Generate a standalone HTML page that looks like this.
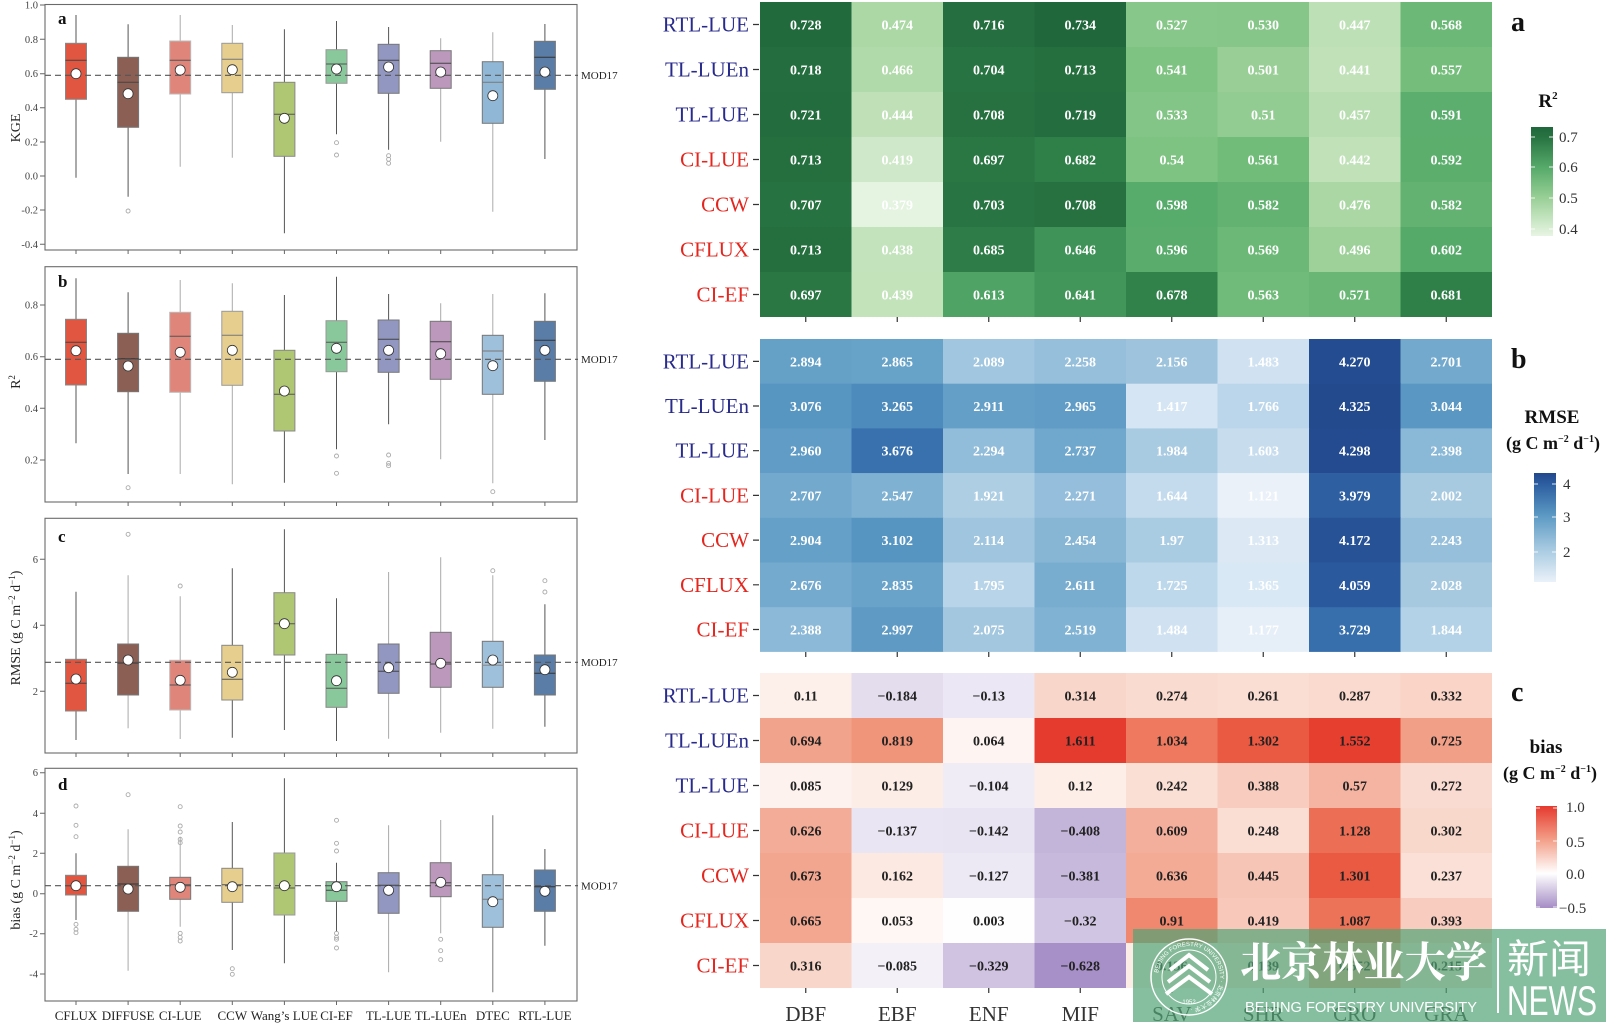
<!DOCTYPE html>
<html><head><meta charset="utf-8"><style>
html,body{margin:0;padding:0;background:#fff;}
svg{display:block;}
.t{font-family:"Liberation Serif",serif;}
.s{font-family:"Liberation Sans",sans-serif;}
</style></head><body>
<svg width="1606" height="1026" viewBox="0 0 1606 1026" xmlns="http://www.w3.org/2000/svg">
<defs>
<linearGradient id="gA" x1="0" y1="0" x2="0" y2="1">
<stop offset="0" stop-color="#1f673b"/><stop offset="0.093" stop-color="#287342"/><stop offset="0.374" stop-color="#56aa6a"/><stop offset="0.654" stop-color="#9ad097"/><stop offset="0.935" stop-color="#daeed5"/><stop offset="1" stop-color="#e8f4e4"/>
</linearGradient>
<linearGradient id="gB" x1="0" y1="0" x2="0" y2="1">
<stop offset="0" stop-color="#22488c"/><stop offset="0.1" stop-color="#2c5ea0"/><stop offset="0.396" stop-color="#5d9ac4"/><stop offset="0.7" stop-color="#a8cae1"/><stop offset="1" stop-color="#eaf1f9"/>
</linearGradient>
<linearGradient id="gC" x1="0" y1="0" x2="0" y2="1">
<stop offset="0" stop-color="#e53a2e"/><stop offset="0.34" stop-color="#f3a28b"/><stop offset="0.66" stop-color="#ffffff"/><stop offset="1" stop-color="#a58cc5"/>
</linearGradient>
<path id="logoArc" d="M1158 977 A31 31 0 1 1 1220 977 A31 31 0 1 1 1158 977"/>
</defs>
<rect width="1606" height="1026" fill="#fff"/>

<!-- ============ LEFT BOXPLOT PANELS ============ -->
<g class="t" font-size="10.5" fill="#444" text-anchor="end">
<text x="38" y="8.5">1.0</text><text x="38" y="43">0.8</text><text x="38" y="77">0.6</text><text x="38" y="111">0.4</text><text x="38" y="145.5">0.2</text><text x="38" y="179.5">0.0</text><text x="38" y="213.5">-0.2</text><text x="38" y="248">-0.4</text>
<text x="38" y="308.5">0.8</text><text x="38" y="360">0.6</text><text x="38" y="412">0.4</text><text x="38" y="463.5">0.2</text>
<text x="38" y="563">6</text><text x="38" y="629">4</text><text x="38" y="695">2</text>
<text x="38" y="776">6</text><text x="38" y="817">4</text><text x="38" y="857">2</text><text x="38" y="897">0</text><text x="38" y="937">-2</text><text x="38" y="977.5">-4</text>
</g>
<g stroke="#666" stroke-width="1">
<path d="M40 5H45M40 39.3H45M40 73.7H45M40 107.7H45M40 142H45M40 176H45M40 210H45M40 244.3H45"/>
<path d="M40 305H45M40 356.7H45M40 408.3H45M40 460H45"/>
<path d="M40 559.3H45M40 625.3H45M40 691.3H45"/>
<path d="M40 772.7H45M40 813.3H45M40 853.3H45M40 893.7H45M40 933.7H45M40 974H45"/>
<path d="M76 250v4M128.1 250v4M180.2 250v4M232.3 250v4M284.4 250v4M336.5 250v4M388.6 250v4M440.7 250v4M492.8 250v4M544.9 250v4"/>
<path d="M76 502v4M128.1 502v4M180.2 502v4M232.3 502v4M284.4 502v4M336.5 502v4M388.6 502v4M440.7 502v4M492.8 502v4M544.9 502v4"/>
<path d="M76 753v4M128.1 753v4M180.2 753v4M232.3 753v4M284.4 753v4M336.5 753v4M388.6 753v4M440.7 753v4M492.8 753v4M544.9 753v4"/>
<path d="M76 1001v4M128.1 1001v4M180.2 1001v4M232.3 1001v4M284.4 1001v4M336.5 1001v4M388.6 1001v4M440.7 1001v4M492.8 1001v4M544.9 1001v4"/>
</g>
<g fill="none" stroke="#6a6a6a" stroke-width="1.1">
<rect x="45" y="4.5" width="532" height="245.5"/>
<rect x="45" y="266.7" width="532" height="235.3"/>
<rect x="45" y="518.3" width="532" height="234.7"/>
<rect x="45" y="768.3" width="532" height="232.7"/>
</g>
<g class="t" font-size="14" fill="#222" text-anchor="middle">
<text transform="translate(20,128) rotate(-90)">KGE</text>
<text transform="translate(20,382) rotate(-90)">R<tspan font-size="9" dy="-5">2</tspan></text>
<text transform="translate(20,628) rotate(-90)">RMSE (g C m<tspan font-size="9" dy="-5">−2</tspan><tspan dy="5"> d</tspan><tspan font-size="9" dy="-5">−1</tspan><tspan dy="5">)</tspan></text>
<text transform="translate(20,880) rotate(-90)">bias (g C m<tspan font-size="9" dy="-5">−2</tspan><tspan dy="5"> d</tspan><tspan font-size="9" dy="-5">−1</tspan><tspan dy="5">)</tspan></text>
</g>
<g class="t" font-size="17" font-weight="bold" fill="#111">
<text x="58" y="24">a</text><text x="58" y="287">b</text><text x="58" y="542">c</text><text x="58" y="790">d</text>
</g>
<g class="t" font-size="13" fill="#222" text-anchor="middle">
<text x="76" y="1020">CFLUX</text><text x="128.1" y="1020">DIFFUSE</text><text x="180.2" y="1020">CI-LUE</text><text x="232.3" y="1020">CCW</text><text x="284.4" y="1020">Wang’s LUE</text><text x="336.5" y="1020">CI-EF</text><text x="388.6" y="1020">TL-LUE</text><text x="440.7" y="1020">TL-LUEn</text><text x="492.8" y="1020">DTEC</text><text x="544.9" y="1020">RTL-LUE</text>
</g>

<!-- Boxes: panel a -->
<g stroke-width="1">
<g transform="translate(76,0)"><path d="M0 15V43.3M0 99.3V177.7" stroke="#555"/><rect x="-10.5" y="43.3" width="21" height="56" fill="#e15641" stroke="#888"/><path d="M-10.5 60.3H10.5" stroke="#444"/></g>
<g transform="translate(128.1,0)"><path d="M0 24.3V57.3M0 127.3V196.7" stroke="#555"/><rect x="-10.5" y="57.3" width="21" height="70" fill="#8c5f55" stroke="#777"/><path d="M-10.5 82.3H10.5" stroke="#444"/></g>
<g transform="translate(180.2,0)"><path d="M0 15V41M0 94V166.7" stroke="#aaa"/><rect x="-10.5" y="41" width="21" height="53" fill="#df857a" stroke="#bbb"/><path d="M-10.5 60.3H10.5" stroke="#555"/></g>
<g transform="translate(232.3,0)"><path d="M0 25V43.3M0 92.7V157.7" stroke="#aaa"/><rect x="-10.5" y="43.3" width="21" height="49.4" fill="#e6cf8e" stroke="#999"/><path d="M-10.5 59.3H10.5" stroke="#777"/></g>
<g transform="translate(284.4,0)"><path d="M0 29.3V82.3M0 156.3V233.3" stroke="#555"/><rect x="-10.5" y="82.3" width="21" height="74" fill="#afc672" stroke="#888"/><path d="M-10.5 114.3H10.5" stroke="#555"/></g>
<g transform="translate(336.5,0)"><path d="M0 21V49.7M0 83.3V134.3" stroke="#555"/><rect x="-10.5" y="49.7" width="21" height="33.6" fill="#89c89a" stroke="#999"/><path d="M-10.5 64H10.5" stroke="#555"/></g>
<g transform="translate(388.6,0)"><path d="M0 27V44.3M0 93.3V149.7" stroke="#555"/><rect x="-10.5" y="44.3" width="21" height="49" fill="#9197c0" stroke="#777"/><path d="M-10.5 60.3H10.5" stroke="#444"/></g>
<g transform="translate(440.7,0)"><path d="M0 38.3V50.7M0 88.3V141.7" stroke="#aaa"/><rect x="-10.5" y="50.7" width="21" height="37.6" fill="#bc98bd" stroke="#777"/><path d="M-10.5 63.3H10.5" stroke="#444"/></g>
<g transform="translate(492.8,0)"><path d="M0 32.3V61.7M0 123.3V211.7" stroke="#aaa"/><rect x="-10.5" y="61.7" width="21" height="61.6" fill="#90b8d6" stroke="#777"/><path d="M-10.5 82.3H10.5" stroke="#777"/></g>
<g transform="translate(544.9,0)"><path d="M0 24V41.3M0 89.3V159" stroke="#555"/><rect x="-10.5" y="41.3" width="21" height="48" fill="#5a7da8" stroke="#777"/><path d="M-10.5 57.3H10.5" stroke="#333"/></g>
</g>
<!-- panel b -->
<g stroke-width="1">
<g transform="translate(76,0)"><path d="M0 278.3V319.3M0 385V443.3" stroke="#555"/><rect x="-10.5" y="319.3" width="21" height="65.7" fill="#e15641" stroke="#888"/><path d="M-10.5 342.3H10.5" stroke="#444"/></g>
<g transform="translate(128.1,0)"><path d="M0 292.3V333.3M0 391.7V474" stroke="#555"/><rect x="-10.5" y="333.3" width="21" height="58.4" fill="#8c5f55" stroke="#777"/><path d="M-10.5 358.7H10.5" stroke="#333"/></g>
<g transform="translate(180.2,0)"><path d="M0 280V312.3M0 392.3V474" stroke="#aaa"/><rect x="-10.5" y="312.3" width="21" height="80" fill="#df857a" stroke="#bbb"/><path d="M-10.5 336.3H10.5" stroke="#555"/></g>
<g transform="translate(232.3,0)"><path d="M0 283.3V311.3M0 385.3V484.3" stroke="#aaa"/><rect x="-10.5" y="311.3" width="21" height="74" fill="#e6cf8e" stroke="#999"/><path d="M-10.5 335.3H10.5" stroke="#777"/></g>
<g transform="translate(284.4,0)"><path d="M0 295V350.3M0 431V482.7" stroke="#555"/><rect x="-10.5" y="350.3" width="21" height="80.7" fill="#afc672" stroke="#888"/><path d="M-10.5 394.3H10.5" stroke="#555"/></g>
<g transform="translate(336.5,0)"><path d="M0 276.7V320.7M0 371.7V449.3" stroke="#555"/><rect x="-10.5" y="320.7" width="21" height="51" fill="#89c89a" stroke="#999"/><path d="M-10.5 342.3H10.5" stroke="#555"/></g>
<g transform="translate(388.6,0)"><path d="M0 294V320M0 372.3V424.3" stroke="#555"/><rect x="-10.5" y="320" width="21" height="52.3" fill="#9197c0" stroke="#777"/><path d="M-10.5 339.3H10.5" stroke="#444"/></g>
<g transform="translate(440.7,0)"><path d="M0 303.3V321.3M0 379.3V459.3" stroke="#aaa"/><rect x="-10.5" y="321.3" width="21" height="58" fill="#bc98bd" stroke="#777"/><path d="M-10.5 341.7H10.5" stroke="#444"/></g>
<g transform="translate(492.8,0)"><path d="M0 294V335.3M0 394.3V483.3" stroke="#aaa"/><rect x="-10.5" y="335.3" width="21" height="59" fill="#9fc0da" stroke="#777"/><path d="M-10.5 351H10.5" stroke="#777"/></g>
<g transform="translate(544.9,0)"><path d="M0 293.3V321.3M0 381.3V440" stroke="#555"/><rect x="-10.5" y="321.3" width="21" height="60" fill="#5a7da8" stroke="#777"/><path d="M-10.5 340.3H10.5" stroke="#333"/></g>
</g>
<!-- panel c -->
<g stroke-width="1">
<g transform="translate(76,0)"><path d="M0 591.7V659.3M0 711V740" stroke="#555"/><rect x="-10.5" y="659.3" width="21" height="51.7" fill="#e15641" stroke="#888"/><path d="M-10.5 683.3H10.5" stroke="#444"/></g>
<g transform="translate(128.1,0)"><path d="M0 575.3V644M0 695V728.3" stroke="#aaa"/><rect x="-10.5" y="644" width="21" height="51" fill="#8c5f55" stroke="#777"/><path d="M-10.5 663H10.5" stroke="#333"/></g>
<g transform="translate(180.2,0)"><path d="M0 596.3V660.3M0 710V739" stroke="#aaa"/><rect x="-10.5" y="660.3" width="21" height="49.7" fill="#df857a" stroke="#bbb"/><path d="M-10.5 685H10.5" stroke="#555"/></g>
<g transform="translate(232.3,0)"><path d="M0 568.3V645.3M0 700V737.7" stroke="#555"/><rect x="-10.5" y="645.3" width="21" height="54.7" fill="#e6cf8e" stroke="#888"/><path d="M-10.5 679.3H10.5" stroke="#555"/></g>
<g transform="translate(284.4,0)"><path d="M0 529.3V592.7M0 655V730" stroke="#555"/><rect x="-10.5" y="592.7" width="21" height="62.3" fill="#afc672" stroke="#888"/><path d="M-10.5 623.7H10.5" stroke="#555"/></g>
<g transform="translate(336.5,0)"><path d="M0 598.3V654.3M0 707.3V741" stroke="#555"/><rect x="-10.5" y="654.3" width="21" height="53" fill="#89c89a" stroke="#888"/><path d="M-10.5 688.3H10.5" stroke="#555"/></g>
<g transform="translate(388.6,0)"><path d="M0 572V644M0 693.3V738.7" stroke="#aaa"/><rect x="-10.5" y="644" width="21" height="49.3" fill="#9197c0" stroke="#777"/><path d="M-10.5 671.3H10.5" stroke="#444"/></g>
<g transform="translate(440.7,0)"><path d="M0 557.3V632.3M0 687.3V732.7" stroke="#aaa"/><rect x="-10.5" y="632.3" width="21" height="55" fill="#bc98bd" stroke="#777"/><path d="M-10.5 664H10.5" stroke="#444"/></g>
<g transform="translate(492.8,0)"><path d="M0 575.3V641.3M0 687.3V728.7" stroke="#aaa"/><rect x="-10.5" y="641.3" width="21" height="46" fill="#9fc0da" stroke="#777"/><path d="M-10.5 665.3H10.5" stroke="#888"/></g>
<g transform="translate(544.9,0)"><path d="M0 604.3V655M0 695V726.7" stroke="#555"/><rect x="-10.5" y="655" width="21" height="40" fill="#5a7da8" stroke="#777"/><path d="M-10.5 673.3H10.5" stroke="#333"/></g>
</g>
<!-- panel d -->
<g stroke-width="1">
<g transform="translate(76,0)"><path d="M0 853.3V875.3M0 895V920" stroke="#555"/><rect x="-10.5" y="875.3" width="21" height="19.7" fill="#e15641" stroke="#888"/><path d="M-10.5 885.7H10.5" stroke="#444"/></g>
<g transform="translate(128.1,0)"><path d="M0 829.3V866.3M0 911.3V970.7" stroke="#aaa"/><rect x="-10.5" y="866.3" width="21" height="45" fill="#8c5f55" stroke="#777"/><path d="M-10.5 884H10.5" stroke="#333"/></g>
<g transform="translate(180.2,0)"><path d="M0 836.7V877.3M0 899.3V926.7" stroke="#aaa"/><rect x="-10.5" y="877.3" width="21" height="22" fill="#df857a" stroke="#777"/><path d="M-10.5 884.7H10.5" stroke="#555"/></g>
<g transform="translate(232.3,0)"><path d="M0 822V868.3M0 902.3V950" stroke="#555"/><rect x="-10.5" y="868.3" width="21" height="34" fill="#e6cf8e" stroke="#888"/><path d="M-10.5 884.7H10.5" stroke="#555"/></g>
<g transform="translate(284.4,0)"><path d="M0 778.3V853M0 915V963.3" stroke="#555"/><rect x="-10.5" y="853" width="21" height="62" fill="#afc672" stroke="#999"/><path d="M-10.5 888H10.5" stroke="#555"/></g>
<g transform="translate(336.5,0)"><path d="M0 862.7V881.7M0 901.3V931.7" stroke="#555"/><rect x="-10.5" y="881.7" width="21" height="19.6" fill="#89c89a" stroke="#777"/><path d="M-10.5 890.3H10.5" stroke="#444"/></g>
<g transform="translate(388.6,0)"><path d="M0 825.3V872.7M0 913.3V972.3" stroke="#aaa"/><rect x="-10.5" y="872.7" width="21" height="40.6" fill="#9197c0" stroke="#777"/><path d="M-10.5 885.3H10.5" stroke="#444"/></g>
<g transform="translate(440.7,0)"><path d="M0 820V862.7M0 896.7V933.3" stroke="#aaa"/><rect x="-10.5" y="862.7" width="21" height="34" fill="#bc98bd" stroke="#777"/><path d="M-10.5 882.7H10.5" stroke="#444"/></g>
<g transform="translate(492.8,0)"><path d="M0 815.3V874.7M0 927.3V992.3" stroke="#777"/><rect x="-10.5" y="874.7" width="21" height="52.6" fill="#9fc0da" stroke="#777"/><path d="M-10.5 899.3H10.5" stroke="#777"/></g>
<g transform="translate(544.9,0)"><path d="M0 849V870M0 911.3V945.7" stroke="#555"/><rect x="-10.5" y="870" width="21" height="41.3" fill="#5a7da8" stroke="#777"/><path d="M-10.5 886.7H10.5" stroke="#333"/></g>
</g>
<!-- outliers -->
<g fill="none" stroke="#aaa" stroke-width="0.9">
<circle cx="128.1" cy="211" r="2"/><circle cx="336.5" cy="142.7" r="2"/><circle cx="336.5" cy="155" r="2"/><circle cx="388.6" cy="155.7" r="2"/><circle cx="388.6" cy="159.3" r="2"/><circle cx="388.6" cy="163.3" r="2"/>
<circle cx="128.1" cy="487.7" r="2"/><circle cx="336.5" cy="456" r="2"/><circle cx="336.5" cy="473.3" r="2"/><circle cx="388.6" cy="455" r="2"/><circle cx="388.6" cy="463.3" r="2"/><circle cx="388.6" cy="465.7" r="2"/><circle cx="492.8" cy="491.7" r="2"/>
<circle cx="128.1" cy="534.3" r="2"/><circle cx="180.2" cy="586" r="2"/><circle cx="492.8" cy="570.7" r="2"/><circle cx="544.9" cy="580.7" r="2"/><circle cx="544.9" cy="592" r="2"/>
<circle cx="76" cy="806" r="2"/><circle cx="76" cy="825.3" r="2"/><circle cx="76" cy="836.7" r="2"/><circle cx="76" cy="924.3" r="2"/><circle cx="76" cy="929.3" r="2"/><circle cx="76" cy="932.7" r="2"/>
<circle cx="128.1" cy="794.7" r="2"/>
<circle cx="180.2" cy="806.7" r="2"/><circle cx="180.2" cy="826" r="2"/><circle cx="180.2" cy="832" r="2"/><circle cx="180.2" cy="839.3" r="2"/><circle cx="180.2" cy="842.7" r="2"/><circle cx="180.2" cy="933.3" r="2"/><circle cx="180.2" cy="937.3" r="2"/><circle cx="180.2" cy="941" r="2"/>
<circle cx="232.3" cy="968.7" r="2"/><circle cx="232.3" cy="974.3" r="2"/>
<circle cx="336.5" cy="820.3" r="2"/><circle cx="336.5" cy="843.3" r="2"/><circle cx="336.5" cy="851" r="2"/><circle cx="336.5" cy="933.3" r="2"/><circle cx="336.5" cy="937.3" r="2"/><circle cx="336.5" cy="939.3" r="2"/><circle cx="336.5" cy="948" r="2"/>
<circle cx="440.7" cy="939.3" r="2"/><circle cx="440.7" cy="950.7" r="2"/><circle cx="440.7" cy="959.7" r="2"/>
</g>
<!-- MOD17 dashed lines -->
<g stroke="#555" stroke-width="1.1" stroke-dasharray="6,4">
<path d="M45 75.3H578"/><path d="M45 359.3H578"/><path d="M45 662.3H578"/><path d="M45 885.7H578"/>
</g>
<g class="t" font-size="11" fill="#222">
<text x="581" y="79">MOD17</text><text x="581" y="363">MOD17</text><text x="581" y="666">MOD17</text><text x="581" y="889.7">MOD17</text>
</g>
<!-- means -->
<g fill="#fff" stroke="#333" stroke-width="0.8">
<circle cx="76" cy="73.7" r="5"/><circle cx="128.1" cy="93.7" r="5"/><circle cx="180.2" cy="70" r="5"/><circle cx="232.3" cy="69.7" r="5"/><circle cx="284.4" cy="118.3" r="5"/><circle cx="336.5" cy="69" r="5"/><circle cx="388.6" cy="67" r="5"/><circle cx="440.7" cy="72" r="5"/><circle cx="492.8" cy="95.7" r="5"/><circle cx="544.9" cy="72" r="5"/>
<circle cx="76" cy="350.7" r="5"/><circle cx="128.1" cy="366" r="5"/><circle cx="180.2" cy="352.3" r="5"/><circle cx="232.3" cy="350.3" r="5"/><circle cx="284.4" cy="391" r="5"/><circle cx="336.5" cy="348.3" r="5"/><circle cx="388.6" cy="350.3" r="5"/><circle cx="440.7" cy="353.7" r="5"/><circle cx="492.8" cy="365.7" r="5"/><circle cx="544.9" cy="350.3" r="5"/>
<circle cx="76" cy="679" r="5"/><circle cx="128.1" cy="660" r="5"/><circle cx="180.2" cy="680.3" r="5"/><circle cx="232.3" cy="672.3" r="5"/><circle cx="284.4" cy="623.7" r="5"/><circle cx="336.5" cy="680.7" r="5"/><circle cx="388.6" cy="667.7" r="5"/><circle cx="440.7" cy="663.3" r="5"/><circle cx="492.8" cy="660" r="5"/><circle cx="544.9" cy="669.7" r="5"/>
<circle cx="76" cy="885.7" r="5"/><circle cx="128.1" cy="889" r="5"/><circle cx="180.2" cy="887.3" r="5"/><circle cx="232.3" cy="886.7" r="5"/><circle cx="284.4" cy="885.7" r="5"/><circle cx="336.5" cy="886.7" r="5"/><circle cx="388.6" cy="890.3" r="5"/><circle cx="440.7" cy="882.3" r="5"/><circle cx="492.8" cy="901.7" r="5"/><circle cx="544.9" cy="891.3" r="5"/>
</g>

<!-- ============ HEATMAP A (R2) ============ -->
<g>
<rect x="760" y="2" width="92" height="45" fill="#216a3c"/><rect x="851.5" y="2" width="92" height="45" fill="#acd8a6"/><rect x="943" y="2" width="92" height="45" fill="#246e3f"/><rect x="1034.5" y="2" width="92" height="45" fill="#20683b"/><rect x="1126" y="2" width="92" height="45" fill="#87c789"/><rect x="1217.5" y="2" width="92" height="45" fill="#86c688"/><rect x="1309" y="2" width="92" height="45" fill="#bee0b6"/><rect x="1400.5" y="2" width="91.5" height="45" fill="#6cb877"/>
<rect x="760" y="47" width="92" height="45" fill="#246d3f"/><rect x="851.5" y="47" width="92" height="45" fill="#b1daaa"/><rect x="943" y="47" width="92" height="45" fill="#287342"/><rect x="1034.5" y="47" width="92" height="45" fill="#256f3f"/><rect x="1126" y="47" width="92" height="45" fill="#7fc383"/><rect x="1217.5" y="47" width="92" height="45" fill="#99cf96"/><rect x="1309" y="47" width="92" height="45" fill="#c1e2b9"/><rect x="1400.5" y="47" width="91.5" height="45" fill="#74bd7b"/>
<rect x="760" y="92" width="92" height="45" fill="#236c3e"/><rect x="851.5" y="92" width="92" height="45" fill="#c0e1b8"/><rect x="943" y="92" width="92" height="45" fill="#277141"/><rect x="1034.5" y="92" width="92" height="45" fill="#246d3e"/><rect x="1126" y="92" width="92" height="45" fill="#83c586"/><rect x="1217.5" y="92" width="92" height="45" fill="#93cc92"/><rect x="1309" y="92" width="92" height="45" fill="#b7ddb0"/><rect x="1400.5" y="92" width="91.5" height="45" fill="#5cae6e"/>
<rect x="760" y="137" width="92" height="45" fill="#256f3f"/><rect x="851.5" y="137" width="92" height="45" fill="#cfe8c9"/><rect x="943" y="137" width="92" height="45" fill="#2a7744"/><rect x="1034.5" y="137" width="92" height="45" fill="#2f7f49"/><rect x="1126" y="137" width="92" height="45" fill="#7fc383"/><rect x="1217.5" y="137" width="92" height="45" fill="#71bc79"/><rect x="1309" y="137" width="92" height="45" fill="#c1e2b9"/><rect x="1400.5" y="137" width="91.5" height="45" fill="#5cae6d"/>
<rect x="760" y="182" width="92" height="45" fill="#277241"/><rect x="851.5" y="182" width="92" height="45" fill="#e5f3e1"/><rect x="943" y="182" width="92" height="45" fill="#287442"/><rect x="1034.5" y="182" width="92" height="45" fill="#277141"/><rect x="1126" y="182" width="92" height="45" fill="#57ab6b"/><rect x="1217.5" y="182" width="92" height="45" fill="#63b271"/><rect x="1309" y="182" width="92" height="45" fill="#abd7a5"/><rect x="1400.5" y="182" width="91.5" height="45" fill="#63b271"/>
<rect x="760" y="227" width="92" height="45" fill="#256f3f"/><rect x="851.5" y="227" width="92" height="45" fill="#c3e3bc"/><rect x="943" y="227" width="92" height="45" fill="#2e7d48"/><rect x="1034.5" y="227" width="92" height="45" fill="#3f9358"/><rect x="1126" y="227" width="92" height="45" fill="#59ac6c"/><rect x="1217.5" y="227" width="92" height="45" fill="#6cb876"/><rect x="1309" y="227" width="92" height="45" fill="#9dd199"/><rect x="1400.5" y="227" width="91.5" height="45" fill="#55a969"/>
<rect x="760" y="272" width="92" height="45" fill="#2a7744"/><rect x="851.5" y="272" width="92" height="45" fill="#c3e3bb"/><rect x="943" y="272" width="92" height="45" fill="#4fa364"/><rect x="1034.5" y="272" width="92" height="45" fill="#42965a"/><rect x="1126" y="272" width="92" height="45" fill="#31814b"/><rect x="1217.5" y="272" width="92" height="45" fill="#70bb79"/><rect x="1309" y="272" width="92" height="45" fill="#6ab775"/><rect x="1400.5" y="272" width="91.5" height="45" fill="#2f7f49"/>
</g>
<g class="t" font-size="14" font-weight="bold" fill="#fff" text-anchor="middle">
<text x="805.75" y="29.5">0.728</text><text x="897.25" y="29.5">0.474</text><text x="988.75" y="29.5">0.716</text><text x="1080.25" y="29.5">0.734</text><text x="1171.75" y="29.5">0.527</text><text x="1263.25" y="29.5">0.530</text><text x="1354.75" y="29.5">0.447</text><text x="1446.25" y="29.5">0.568</text>
<text x="805.75" y="74.5">0.718</text><text x="897.25" y="74.5">0.466</text><text x="988.75" y="74.5">0.704</text><text x="1080.25" y="74.5">0.713</text><text x="1171.75" y="74.5">0.541</text><text x="1263.25" y="74.5">0.501</text><text x="1354.75" y="74.5">0.441</text><text x="1446.25" y="74.5">0.557</text>
<text x="805.75" y="119.5">0.721</text><text x="897.25" y="119.5">0.444</text><text x="988.75" y="119.5">0.708</text><text x="1080.25" y="119.5">0.719</text><text x="1171.75" y="119.5">0.533</text><text x="1263.25" y="119.5">0.51</text><text x="1354.75" y="119.5">0.457</text><text x="1446.25" y="119.5">0.591</text>
<text x="805.75" y="164.5">0.713</text><text x="897.25" y="164.5">0.419</text><text x="988.75" y="164.5">0.697</text><text x="1080.25" y="164.5">0.682</text><text x="1171.75" y="164.5">0.54</text><text x="1263.25" y="164.5">0.561</text><text x="1354.75" y="164.5">0.442</text><text x="1446.25" y="164.5">0.592</text>
<text x="805.75" y="209.5">0.707</text><text x="897.25" y="209.5">0.379</text><text x="988.75" y="209.5">0.703</text><text x="1080.25" y="209.5">0.708</text><text x="1171.75" y="209.5">0.598</text><text x="1263.25" y="209.5">0.582</text><text x="1354.75" y="209.5">0.476</text><text x="1446.25" y="209.5">0.582</text>
<text x="805.75" y="254.5">0.713</text><text x="897.25" y="254.5">0.438</text><text x="988.75" y="254.5">0.685</text><text x="1080.25" y="254.5">0.646</text><text x="1171.75" y="254.5">0.596</text><text x="1263.25" y="254.5">0.569</text><text x="1354.75" y="254.5">0.496</text><text x="1446.25" y="254.5">0.602</text>
<text x="805.75" y="299.5">0.697</text><text x="897.25" y="299.5">0.439</text><text x="988.75" y="299.5">0.613</text><text x="1080.25" y="299.5">0.641</text><text x="1171.75" y="299.5">0.678</text><text x="1263.25" y="299.5">0.563</text><text x="1354.75" y="299.5">0.571</text><text x="1446.25" y="299.5">0.681</text>
</g>

<!-- ============ HEATMAP B (RMSE) ============ -->
<g>
<rect x="760" y="339" width="92" height="45" fill="#65a0c7"/><rect x="851.5" y="339" width="92" height="45" fill="#67a2c8"/><rect x="943" y="339" width="92" height="45" fill="#a1c6df"/><rect x="1034.5" y="339" width="92" height="45" fill="#95bfdb"/><rect x="1126" y="339" width="92" height="45" fill="#9dc3dd"/><rect x="1217.5" y="339" width="92" height="45" fill="#d0e2f1"/><rect x="1309" y="339" width="92" height="45" fill="#244d91"/><rect x="1400.5" y="339" width="91.5" height="45" fill="#73a9cd"/>
<rect x="760" y="383.7" width="92" height="45" fill="#5896c2"/><rect x="851.5" y="383.7" width="92" height="45" fill="#4d8bbc"/><rect x="943" y="383.7" width="92" height="45" fill="#639fc7"/><rect x="1034.5" y="383.7" width="92" height="45" fill="#609cc5"/><rect x="1126" y="383.7" width="92" height="45" fill="#d5e5f3"/><rect x="1217.5" y="383.7" width="92" height="45" fill="#bbd6ea"/><rect x="1309" y="383.7" width="92" height="45" fill="#234a8d"/><rect x="1400.5" y="383.7" width="91.5" height="45" fill="#5a98c3"/>
<rect x="760" y="428.4" width="92" height="45" fill="#609cc5"/><rect x="851.5" y="428.4" width="92" height="45" fill="#3971af"/><rect x="943" y="428.4" width="92" height="45" fill="#92bdda"/><rect x="1034.5" y="428.4" width="92" height="45" fill="#70a7cc"/><rect x="1126" y="428.4" width="92" height="45" fill="#a9cbe2"/><rect x="1217.5" y="428.4" width="92" height="45" fill="#c7ddee"/><rect x="1309" y="428.4" width="92" height="45" fill="#244b8f"/><rect x="1400.5" y="428.4" width="91.5" height="45" fill="#8ab8d7"/>
<rect x="760" y="473.1" width="92" height="45" fill="#73a9cd"/><rect x="851.5" y="473.1" width="92" height="45" fill="#7eb1d2"/><rect x="943" y="473.1" width="92" height="45" fill="#aecee4"/><rect x="1034.5" y="473.1" width="92" height="45" fill="#94bedb"/><rect x="1126" y="473.1" width="92" height="45" fill="#c4dbed"/><rect x="1217.5" y="473.1" width="92" height="45" fill="#eaf1f9"/><rect x="1309" y="473.1" width="92" height="45" fill="#2d5fa1"/><rect x="1400.5" y="473.1" width="91.5" height="45" fill="#a8cae1"/>
<rect x="760" y="517.8" width="92" height="45" fill="#64a0c7"/><rect x="851.5" y="517.8" width="92" height="45" fill="#5694c1"/><rect x="943" y="517.8" width="92" height="45" fill="#a0c5de"/><rect x="1034.5" y="517.8" width="92" height="45" fill="#87b6d5"/><rect x="1126" y="517.8" width="92" height="45" fill="#aacce2"/><rect x="1217.5" y="517.8" width="92" height="45" fill="#dce9f5"/><rect x="1309" y="517.8" width="92" height="45" fill="#275396"/><rect x="1400.5" y="517.8" width="91.5" height="45" fill="#96bfdb"/>
<rect x="760" y="562.5" width="92" height="45" fill="#74aace"/><rect x="851.5" y="562.5" width="92" height="45" fill="#69a3c9"/><rect x="943" y="562.5" width="92" height="45" fill="#b8d4e8"/><rect x="1034.5" y="562.5" width="92" height="45" fill="#79add0"/><rect x="1126" y="562.5" width="92" height="45" fill="#bed8eb"/><rect x="1217.5" y="562.5" width="92" height="45" fill="#d8e8f4"/><rect x="1309" y="562.5" width="92" height="45" fill="#2a5a9d"/><rect x="1400.5" y="562.5" width="91.5" height="45" fill="#a6c9e0"/>
<rect x="760" y="607.2" width="92" height="44.7" fill="#8cb9d7"/><rect x="851.5" y="607.2" width="92" height="44.7" fill="#5e9ac4"/><rect x="943" y="607.2" width="92" height="44.7" fill="#a2c7df"/><rect x="1034.5" y="607.2" width="92" height="44.7" fill="#80b2d3"/><rect x="1126" y="607.2" width="92" height="44.7" fill="#d0e2f1"/><rect x="1217.5" y="607.2" width="92" height="44.7" fill="#e6eff8"/><rect x="1309" y="607.2" width="92" height="44.7" fill="#376eac"/><rect x="1400.5" y="607.2" width="91.5" height="44.7" fill="#b4d2e7"/>
</g>
<g class="t" font-size="14" font-weight="bold" fill="#fff" text-anchor="middle">
<text x="805.75" y="366.4">2.894</text><text x="897.25" y="366.4">2.865</text><text x="988.75" y="366.4">2.089</text><text x="1080.25" y="366.4">2.258</text><text x="1171.75" y="366.4">2.156</text><text x="1263.25" y="366.4">1.483</text><text x="1354.75" y="366.4">4.270</text><text x="1446.25" y="366.4">2.701</text>
<text x="805.75" y="411">3.076</text><text x="897.25" y="411">3.265</text><text x="988.75" y="411">2.911</text><text x="1080.25" y="411">2.965</text><text x="1171.75" y="411">1.417</text><text x="1263.25" y="411">1.766</text><text x="1354.75" y="411">4.325</text><text x="1446.25" y="411">3.044</text>
<text x="805.75" y="455.7">2.960</text><text x="897.25" y="455.7">3.676</text><text x="988.75" y="455.7">2.294</text><text x="1080.25" y="455.7">2.737</text><text x="1171.75" y="455.7">1.984</text><text x="1263.25" y="455.7">1.603</text><text x="1354.75" y="455.7">4.298</text><text x="1446.25" y="455.7">2.398</text>
<text x="805.75" y="500.4">2.707</text><text x="897.25" y="500.4">2.547</text><text x="988.75" y="500.4">1.921</text><text x="1080.25" y="500.4">2.271</text><text x="1171.75" y="500.4">1.644</text><text x="1263.25" y="500.4">1.121</text><text x="1354.75" y="500.4">3.979</text><text x="1446.25" y="500.4">2.002</text>
<text x="805.75" y="545.1">2.904</text><text x="897.25" y="545.1">3.102</text><text x="988.75" y="545.1">2.114</text><text x="1080.25" y="545.1">2.454</text><text x="1171.75" y="545.1">1.97</text><text x="1263.25" y="545.1">1.313</text><text x="1354.75" y="545.1">4.172</text><text x="1446.25" y="545.1">2.243</text>
<text x="805.75" y="589.8">2.676</text><text x="897.25" y="589.8">2.835</text><text x="988.75" y="589.8">1.795</text><text x="1080.25" y="589.8">2.611</text><text x="1171.75" y="589.8">1.725</text><text x="1263.25" y="589.8">1.365</text><text x="1354.75" y="589.8">4.059</text><text x="1446.25" y="589.8">2.028</text>
<text x="805.75" y="634.5">2.388</text><text x="897.25" y="634.5">2.997</text><text x="988.75" y="634.5">2.075</text><text x="1080.25" y="634.5">2.519</text><text x="1171.75" y="634.5">1.484</text><text x="1263.25" y="634.5">1.177</text><text x="1354.75" y="634.5">3.729</text><text x="1446.25" y="634.5">1.844</text>
</g>

<!-- ============ HEATMAP C (bias) ============ -->
<g>
<rect x="760" y="673" width="92" height="45" fill="#fdefe9"/><rect x="851.5" y="673" width="92" height="45" fill="#e4ddee"/><rect x="943" y="673" width="92" height="45" fill="#ebe7f4"/><rect x="1034.5" y="673" width="92" height="45" fill="#f9d6ca"/><rect x="1126" y="673" width="92" height="45" fill="#fadbd0"/><rect x="1217.5" y="673" width="92" height="45" fill="#faddd3"/><rect x="1309" y="673" width="92" height="45" fill="#fad9ce"/><rect x="1400.5" y="673" width="91.5" height="45" fill="#f9d4c7"/>
<rect x="760" y="718" width="92" height="45" fill="#f2a38c"/><rect x="851.5" y="718" width="92" height="45" fill="#f0947a"/><rect x="943" y="718" width="92" height="45" fill="#fef5f2"/><rect x="1034.5" y="718" width="92" height="45" fill="#e53a2e"/><rect x="1126" y="718" width="92" height="45" fill="#ee795e"/><rect x="1217.5" y="718" width="92" height="45" fill="#ea5a42"/><rect x="1309" y="718" width="92" height="45" fill="#e63f30"/><rect x="1400.5" y="718" width="91.5" height="45" fill="#f29f88"/>
<rect x="760" y="763" width="92" height="45" fill="#fdf2ee"/><rect x="851.5" y="763" width="92" height="45" fill="#fcede6"/><rect x="943" y="763" width="92" height="45" fill="#f0ecf6"/><rect x="1034.5" y="763" width="92" height="45" fill="#fdeee8"/><rect x="1126" y="763" width="92" height="45" fill="#fadfd5"/><rect x="1217.5" y="763" width="92" height="45" fill="#f8cdbf"/><rect x="1309" y="763" width="92" height="45" fill="#f5b4a2"/><rect x="1400.5" y="763" width="91.5" height="45" fill="#fadbd1"/>
<rect x="760" y="808" width="92" height="45" fill="#f3ac97"/><rect x="851.5" y="808" width="92" height="45" fill="#eae5f3"/><rect x="943" y="808" width="92" height="45" fill="#e9e4f2"/><rect x="1034.5" y="808" width="92" height="45" fill="#c3b5d9"/><rect x="1126" y="808" width="92" height="45" fill="#f4af9c"/><rect x="1217.5" y="808" width="92" height="45" fill="#faded4"/><rect x="1309" y="808" width="92" height="45" fill="#ec6e54"/><rect x="1400.5" y="808" width="91.5" height="45" fill="#f9d8cc"/>
<rect x="760" y="853" width="92" height="45" fill="#f2a68f"/><rect x="851.5" y="853" width="92" height="45" fill="#fce9e1"/><rect x="943" y="853" width="92" height="45" fill="#ece8f4"/><rect x="1034.5" y="853" width="92" height="45" fill="#c7b9dc"/><rect x="1126" y="853" width="92" height="45" fill="#f3ab95"/><rect x="1217.5" y="853" width="92" height="45" fill="#f7c5b6"/><rect x="1309" y="853" width="92" height="45" fill="#ea5a42"/><rect x="1400.5" y="853" width="91.5" height="45" fill="#fae0d6"/>
<rect x="760" y="898" width="92" height="45" fill="#f3a791"/><rect x="851.5" y="898" width="92" height="45" fill="#fef7f4"/><rect x="943" y="898" width="92" height="45" fill="#fffefe"/><rect x="1034.5" y="898" width="92" height="45" fill="#d0c5e2"/><rect x="1126" y="898" width="92" height="45" fill="#ef886e"/><rect x="1217.5" y="898" width="92" height="45" fill="#f8c8ba"/><rect x="1309" y="898" width="92" height="45" fill="#ed7358"/><rect x="1400.5" y="898" width="91.5" height="45" fill="#f8ccbe"/>
<rect x="760" y="943" width="92" height="45" fill="#f9d6ca"/><rect x="851.5" y="943" width="92" height="45" fill="#f3f0f7"/><rect x="943" y="943" width="92" height="45" fill="#cfc3e1"/><rect x="1034.5" y="943" width="92" height="45" fill="#a790c8"/><rect x="1126" y="943" width="92" height="45" fill="#fcede6"/><rect x="1217.5" y="943" width="92" height="45" fill="#fbe4da"/><rect x="1309" y="943" width="92" height="45" fill="#f3a992"/><rect x="1400.5" y="943" width="91.5" height="45" fill="#fbe2d9"/>
</g>
<g class="t" font-size="14" font-weight="bold" fill="#222" text-anchor="middle">
<text x="805.75" y="700.5">0.11</text><text x="897.25" y="700.5">−0.184</text><text x="988.75" y="700.5">−0.13</text><text x="1080.25" y="700.5">0.314</text><text x="1171.75" y="700.5">0.274</text><text x="1263.25" y="700.5">0.261</text><text x="1354.75" y="700.5">0.287</text><text x="1446.25" y="700.5">0.332</text>
<text x="805.75" y="745.5">0.694</text><text x="897.25" y="745.5">0.819</text><text x="988.75" y="745.5">0.064</text><text x="1080.25" y="745.5">1.611</text><text x="1171.75" y="745.5">1.034</text><text x="1263.25" y="745.5">1.302</text><text x="1354.75" y="745.5">1.552</text><text x="1446.25" y="745.5">0.725</text>
<text x="805.75" y="790.5">0.085</text><text x="897.25" y="790.5">0.129</text><text x="988.75" y="790.5">−0.104</text><text x="1080.25" y="790.5">0.12</text><text x="1171.75" y="790.5">0.242</text><text x="1263.25" y="790.5">0.388</text><text x="1354.75" y="790.5">0.57</text><text x="1446.25" y="790.5">0.272</text>
<text x="805.75" y="835.5">0.626</text><text x="897.25" y="835.5">−0.137</text><text x="988.75" y="835.5">−0.142</text><text x="1080.25" y="835.5">−0.408</text><text x="1171.75" y="835.5">0.609</text><text x="1263.25" y="835.5">0.248</text><text x="1354.75" y="835.5">1.128</text><text x="1446.25" y="835.5">0.302</text>
<text x="805.75" y="880.5">0.673</text><text x="897.25" y="880.5">0.162</text><text x="988.75" y="880.5">−0.127</text><text x="1080.25" y="880.5">−0.381</text><text x="1171.75" y="880.5">0.636</text><text x="1263.25" y="880.5">0.445</text><text x="1354.75" y="880.5">1.301</text><text x="1446.25" y="880.5">0.237</text>
<text x="805.75" y="925.5">0.665</text><text x="897.25" y="925.5">0.053</text><text x="988.75" y="925.5">0.003</text><text x="1080.25" y="925.5">−0.32</text><text x="1171.75" y="925.5">0.91</text><text x="1263.25" y="925.5">0.419</text><text x="1354.75" y="925.5">1.087</text><text x="1446.25" y="925.5">0.393</text>
<text x="805.75" y="970.5">0.316</text><text x="897.25" y="970.5">−0.085</text><text x="988.75" y="970.5">−0.329</text><text x="1080.25" y="970.5">−0.628</text><text x="1171.75" y="970.5">0.136</text><text x="1263.25" y="970.5">0.189</text><text x="1354.75" y="970.5">0.652</text><text x="1446.25" y="970.5">0.215</text>
</g>

<!-- heatmap row labels -->
<g class="t" font-size="21" text-anchor="end">
<g fill="#282a8c"><text x="749" y="31.5">RTL-LUE</text><text x="749" y="76.5">TL-LUEn</text><text x="749" y="121.5">TL-LUE</text>
<text x="749" y="368.4">RTL-LUE</text><text x="749" y="413">TL-LUEn</text><text x="749" y="457.7">TL-LUE</text>
<text x="749" y="702.5">RTL-LUE</text><text x="749" y="747.5">TL-LUEn</text><text x="749" y="792.5">TL-LUE</text></g>
<g fill="#e4261e"><text x="749" y="166.5">CI-LUE</text><text x="749" y="211.5">CCW</text><text x="749" y="256.5">CFLUX</text><text x="749" y="301.5">CI-EF</text>
<text x="749" y="502.4">CI-LUE</text><text x="749" y="547.1">CCW</text><text x="749" y="591.8">CFLUX</text><text x="749" y="636.5">CI-EF</text>
<text x="749" y="837.5">CI-LUE</text><text x="749" y="882.5">CCW</text><text x="749" y="927.5">CFLUX</text><text x="749" y="972.5">CI-EF</text></g>
</g>
<g stroke="#333" stroke-width="1.2">
<path d="M753 24.5H759M753 69.5H759M753 114.5H759M753 159.5H759M753 204.5H759M753 249.5H759M753 294.5H759"/>
<path d="M753 361.4H759M753 406H759M753 450.7H759M753 495.4H759M753 540.1H759M753 584.8H759M753 629.5H759"/>
<path d="M753 695.5H759M753 740.5H759M753 785.5H759M753 830.5H759M753 875.5H759M753 920.5H759M753 965.5H759"/>
<path d="M805.75 317v5M897.25 317v5M988.75 317v5M1080.25 317v5M1171.75 317v5M1263.25 317v5M1354.75 317v5M1446.25 317v5"/>
<path d="M805.75 652v5M897.25 652v5M988.75 652v5M1080.25 652v5M1171.75 652v5M1263.25 652v5M1354.75 652v5M1446.25 652v5"/>
<path d="M805.75 988v5M897.25 988v5M988.75 988v5M1080.25 988v5M1171.75 988v5M1263.25 988v5M1354.75 988v5M1446.25 988v5"/>
</g>
<g class="t" font-size="21" fill="#333" text-anchor="middle">
<text x="805.75" y="1021">DBF</text><text x="897.25" y="1021">EBF</text><text x="988.75" y="1021">ENF</text><text x="1080.25" y="1021">MIF</text><text x="1171.75" y="1021">SAV</text><text x="1263.25" y="1021">SHR</text><text x="1354.75" y="1021">CRO</text><text x="1446.25" y="1021">GRA</text>
</g>

<!-- panel letters, legends -->
<g class="t" font-weight="bold" fill="#111">
<text x="1511" y="31" font-size="28">a</text>
<text x="1511" y="368" font-size="28">b</text>
<text x="1511" y="701" font-size="28">c</text>
<text x="1548" y="107" font-size="19" text-anchor="middle">R<tspan font-size="11" dy="-8">2</tspan></text>
<text x="1552" y="423" font-size="19" text-anchor="middle">RMSE</text>
<text x="1553" y="449" font-size="18" text-anchor="middle">(g C m<tspan font-size="10" dy="-7">−2</tspan><tspan dy="7"> d</tspan><tspan font-size="10" dy="-7">−1</tspan><tspan dy="7">)</tspan></text>
<text x="1546" y="753" font-size="19" text-anchor="middle">bias</text>
<text x="1550" y="779" font-size="18" text-anchor="middle">(g C m<tspan font-size="10" dy="-7">−2</tspan><tspan dy="7"> d</tspan><tspan font-size="10" dy="-7">−1</tspan><tspan dy="7">)</tspan></text>
</g>
<rect x="1531" y="127" width="22" height="109" fill="url(#gA)"/>
<rect x="1534" y="473" width="22" height="109" fill="url(#gB)"/>
<rect x="1536" y="806" width="21" height="102" fill="url(#gC)"/>
<g stroke="#fff" stroke-width="1" opacity="0.85">
<path d="M1531 137h4M1549 137h4M1531 167h4M1549 167h4M1531 198h4M1549 198h4M1531 229h4M1549 229h4"/>
<path d="M1534 484h4M1552 484h4M1534 517h4M1552 517h4M1534 552h4M1552 552h4"/>
<path d="M1536 808h4M1553 808h4M1536 841h4M1553 841h4M1536 874h4M1553 874h4M1536 907h4M1553 907h4"/>
</g>
<g class="t" font-size="15" fill="#333">
<text x="1559" y="142">0.7</text><text x="1559" y="172">0.6</text><text x="1559" y="203">0.5</text><text x="1559" y="234">0.4</text>
<text x="1563" y="489">4</text><text x="1563" y="522">3</text><text x="1563" y="557">2</text>
<text x="1566" y="812">1.0</text><text x="1566" y="847">0.5</text><text x="1566" y="879">0.0</text><text x="1559" y="913">−0.5</text>
</g>

<!-- ============ WATERMARK ============ -->
<rect x="1133" y="929" width="473" height="93" fill="rgb(82,164,118)" fill-opacity="0.7"/>
<g fill="none" stroke="#fff">
<circle cx="1189" cy="977" r="38" stroke-width="1.5"/>
<circle cx="1189" cy="977" r="27" stroke-width="1"/>
<path d="M1170 970L1189 955L1208 970" stroke-width="4"/>
<path d="M1168 982L1189 966L1210 982" stroke-width="4"/>
<path d="M1166 994L1189 977L1212 994" stroke-width="4"/>
</g>
<text class="s" font-size="6" fill="#fff"><textPath href="#logoArc" startOffset="2%">BEIJING FORESTRY UNIVERSITY · 北京林业大学 ·</textPath></text>
<text class="s" x="1189" y="1004" font-size="6" fill="#fff" text-anchor="middle">1952</text>
<text x="1240" y="977" font-size="42" font-weight="bold" fill="#fff" font-family="'Noto Serif CJK SC','Noto Sans CJK SC',serif" textLength="247" lengthAdjust="spacingAndGlyphs">北京林业大学</text>
<text class="s" x="1245" y="1012" font-size="15" fill="#fff" textLength="232" lengthAdjust="spacingAndGlyphs">BEIJING FORESTRY UNIVERSITY</text>
<path d="M1498 938V1013" stroke="#fff" stroke-width="2"/>
<text x="1507" y="973" font-size="40" fill="#fff" font-family="'Liberation Sans','Noto Sans CJK SC',sans-serif" textLength="84" lengthAdjust="spacingAndGlyphs">新闻</text>
<text class="s" x="1507" y="1015" font-size="42" fill="#fff" textLength="90" lengthAdjust="spacingAndGlyphs">NEWS</text>
</svg>
</body></html>
